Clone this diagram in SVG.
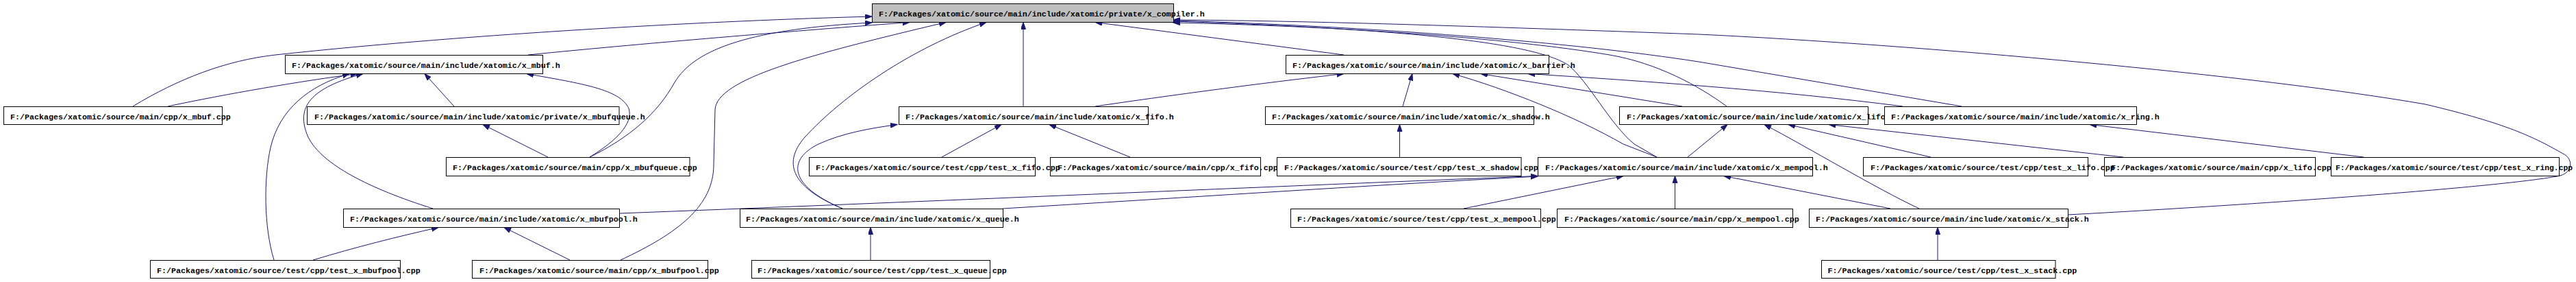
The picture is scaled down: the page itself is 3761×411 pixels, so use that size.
<svg xmlns="http://www.w3.org/2000/svg" width="3761" height="411" viewBox="0 0 3761 411">
<style>
.n rect{fill:#fff;stroke:#000;stroke-width:1}
.n.root rect{fill:#bfbfbf}
.n text{font-family:"Liberation Mono","DejaVu Sans Mono",monospace;font-size:11.67px;font-weight:bold;fill:#000}
.e path{fill:none;stroke:#191970;stroke-width:1;marker-end:url(#arr)}
</style>
<defs>
<marker id="arr" markerUnits="userSpaceOnUse" markerWidth="12" markerHeight="9" refX="10" refY="3.5" orient="auto"><path d="M0,0 L10,3.5 L0,7 z" fill="#191970" stroke="#191970" stroke-width="1"/></marker>
</defs>
<rect width="3761" height="411" fill="#fff"/>
<g id="edges" class="e">
<path d="M194,155 C260,115 330,88 402,80 C700,48 1050,30 1273,24"/>
<path d="M245,155 C330,137 440,118 522,107.5"/>
<path d="M771,80 C950,62 1200,42 1328,32.5"/>
<path d="M663,155 L620,107.5"/>
<path d="M800,229 L705,181.5"/>
<path d="M861,229 C900,205 925,180 918,158 C905,130 850,122 769,107.5"/>
<path d="M861,229 C920,200 960,165 985,120 C1015,70 1100,42 1273,33"/>
<path d="M906,379 C990,340 1042,300 1042,240 L1044,160 C1046,115 1180,80 1381,32.5"/>
<path d="M832,379 L736,331.5"/>
<path d="M457,379 C520,360 580,345 640,331.5"/>
<path d="M400,379 C385,330 385,260 395,215 C408,160 450,125 510,107.5"/>
<path d="M632,304 C540,275 470,240 450,200 C430,155 455,128 530,107.5"/>
<path d="M1230,304 C1160,275 1140,240 1175,200 C1230,140 1330,70 1440,32.5"/>
<path d="M1230,304 C1150,270 1150,232 1195,210 C1230,194 1270,187 1310,181.5"/>
<path d="M1464,304 C1700,290 2000,270 2245,257"/>
<path d="M904,311 C1300,296 1900,270 2245,256.5"/>
<path d="M2137,304 L2370,256.5"/>
<path d="M2445.5,304 L2445.5,256.5"/>
<path d="M2760,304 L2517,256.5"/>
<path d="M2802,304 C2740,275 2640,215 2576,181.5"/>
<path d="M3019,313 C3300,298 3660,272 3738,256 C3758,250 3756,230 3742,224 C3700,200 3660,180 3541,152 C3300,110 2800,65 2480,50 C2150,38 1900,30 1713,29"/>
<path d="M2864,155 L2480,90 C2300,62 2000,38 1713,30"/>
<path d="M2521,155 C2480,125 2420,92 2350,80 C2200,55 1950,38 1713,33"/>
<path d="M2419,229 L2386,210 C2350,180 2320,120 2290,95 C2240,62 2050,42 1713,31"/>
<path d="M2419,229 L2370,210 C2300,170 2200,130 2121,107.5"/>
<path d="M2464,229 L2522,181.5"/>
<path d="M1962,80 L1599,32.5"/>
<path d="M1494,155 L1494,32.5"/>
<path d="M1599,155 C1750,133 1870,118 1962,107.5"/>
<path d="M2048,155 L2062,107.5"/>
<path d="M2456,155 L2162,107.5"/>
<path d="M2778,155 C2600,132 2400,118 2231,107.5"/>
<path d="M2043.5,229 L2043.5,181.5"/>
<path d="M1375,229 L1462,181.5"/>
<path d="M1650,229 L1532,181.5"/>
<path d="M2819,229 L2611,181.5"/>
<path d="M3100,229 L2670,181.5"/>
<path d="M3451,229 L3051,181.5"/>
<path d="M1271,379 L1271,331.5"/>
<path d="M2829,379 L2829,331.5"/>
</g>
<g id="x_compiler_h" class="n root"><rect x="1273.5" y="5.5" width="440" height="27"/><text x="1283" y="23.5">F:/Packages/xatomic/source/main/include/xatomic/private/x_compiler.h</text></g>
<g id="x_mbuf_h" class="n"><rect x="416.5" y="80.5" width="376" height="27"/><text x="426" y="98.5">F:/Packages/xatomic/source/main/include/xatomic/x_mbuf.h</text></g>
<g id="x_barrier_h" class="n"><rect x="1877.5" y="80.5" width="384" height="27"/><text x="1887" y="98.5">F:/Packages/xatomic/source/main/include/xatomic/x_barrier.h</text></g>
<g id="x_mbuf_cpp" class="n"><rect x="5.5" y="155.5" width="319" height="26"/><text x="15" y="173.5">F:/Packages/xatomic/source/main/cpp/x_mbuf.cpp</text></g>
<g id="x_mbufqueue_h" class="n"><rect x="448.5" y="155.5" width="455.5" height="26"/><text x="459" y="173.5">F:/Packages/xatomic/source/main/include/xatomic/private/x_mbufqueue.h</text></g>
<g id="x_fifo_h" class="n"><rect x="1312.5" y="155.5" width="364" height="26"/><text x="1322" y="173.5">F:/Packages/xatomic/source/main/include/xatomic/x_fifo.h</text></g>
<g id="x_shadow_h" class="n"><rect x="1847.5" y="155.5" width="392" height="26"/><text x="1857" y="173.5">F:/Packages/xatomic/source/main/include/xatomic/x_shadow.h</text></g>
<g id="x_lifo_h" class="n"><rect x="2364.5" y="155.5" width="363" height="26"/><text x="2375" y="173.5">F:/Packages/xatomic/source/main/include/xatomic/x_lifo.h</text></g>
<g id="x_ring_h" class="n"><rect x="2751.5" y="155.5" width="368" height="26"/><text x="2761" y="173.5">F:/Packages/xatomic/source/main/include/xatomic/x_ring.h</text></g>
<g id="x_mbufqueue_cpp" class="n"><rect x="651.5" y="229.5" width="355.5" height="27"/><text x="661" y="247.5">F:/Packages/xatomic/source/main/cpp/x_mbufqueue.cpp</text></g>
<g id="x_fifo_cpp" class="n"><rect x="1533.5" y="229.5" width="307" height="27"/><text x="1544" y="247.5">F:/Packages/xatomic/source/main/cpp/x_fifo.cpp</text></g>
<g id="test_x_fifo_cpp" class="n"><rect x="1181.5" y="229.5" width="330" height="27"/><text x="1191" y="247.5">F:/Packages/xatomic/source/test/cpp/test_x_fifo.cpp</text></g>
<g id="test_x_shadow_cpp" class="n"><rect x="1864.5" y="229.5" width="356.5" height="27"/><text x="1875" y="247.5">F:/Packages/xatomic/source/test/cpp/test_x_shadow.cpp</text></g>
<g id="x_mempool_h" class="n"><rect x="2245.5" y="229.5" width="401" height="27"/><text x="2256" y="247.5">F:/Packages/xatomic/source/main/include/xatomic/x_mempool.h</text></g>
<g id="x_lifo_cpp" class="n"><rect x="3072.5" y="229.5" width="308" height="27"/><text x="3082" y="247.5">F:/Packages/xatomic/source/main/cpp/x_lifo.cpp</text></g>
<g id="test_x_lifo_cpp" class="n"><rect x="2720.5" y="229.5" width="328" height="27"/><text x="2731" y="247.5">F:/Packages/xatomic/source/test/cpp/test_x_lifo.cpp</text></g>
<g id="test_x_ring_cpp" class="n"><rect x="3403.5" y="229.5" width="333" height="27"/><text x="3410" y="247.5" textLength="346" lengthAdjust="spacingAndGlyphs">F:/Packages/xatomic/source/test/cpp/test_x_ring.cpp</text></g>
<g id="x_mbufpool_h" class="n"><rect x="501.5" y="304.5" width="403" height="27"/><text x="511" y="322.5">F:/Packages/xatomic/source/main/include/xatomic/x_mbufpool.h</text></g>
<g id="x_queue_h" class="n"><rect x="1080.5" y="304.5" width="384" height="27"/><text x="1089" y="322.5">F:/Packages/xatomic/source/main/include/xatomic/x_queue.h</text></g>
<g id="test_x_mempool_cpp" class="n"><rect x="1884.5" y="304.5" width="365" height="27"/><text x="1894" y="322.5">F:/Packages/xatomic/source/test/cpp/test_x_mempool.cpp</text></g>
<g id="x_mempool_cpp" class="n"><rect x="2273.5" y="304.5" width="344" height="27"/><text x="2284" y="322.5">F:/Packages/xatomic/source/main/cpp/x_mempool.cpp</text></g>
<g id="x_stack_h" class="n"><rect x="2641.5" y="304.5" width="378" height="27"/><text x="2651" y="322.5">F:/Packages/xatomic/source/main/include/xatomic/x_stack.h</text></g>
<g id="test_x_mbufpool_cpp" class="n"><rect x="219.5" y="379.5" width="365" height="26"/><text x="229" y="397.5">F:/Packages/xatomic/source/test/cpp/test_x_mbufpool.cpp</text></g>
<g id="x_mbufpool_cpp" class="n"><rect x="689.5" y="379.5" width="344" height="26"/><text x="700" y="397.5">F:/Packages/xatomic/source/main/cpp/x_mbufpool.cpp</text></g>
<g id="test_x_queue_cpp" class="n"><rect x="1097.5" y="379.5" width="348" height="26"/><text x="1106" y="397.5">F:/Packages/xatomic/source/test/cpp/test_x_queue.cpp</text></g>
<g id="test_x_stack_cpp" class="n"><rect x="2659.5" y="379.5" width="341.5" height="26"/><text x="2668.5" y="397.5">F:/Packages/xatomic/source/test/cpp/test_x_stack.cpp</text></g>
</svg>
